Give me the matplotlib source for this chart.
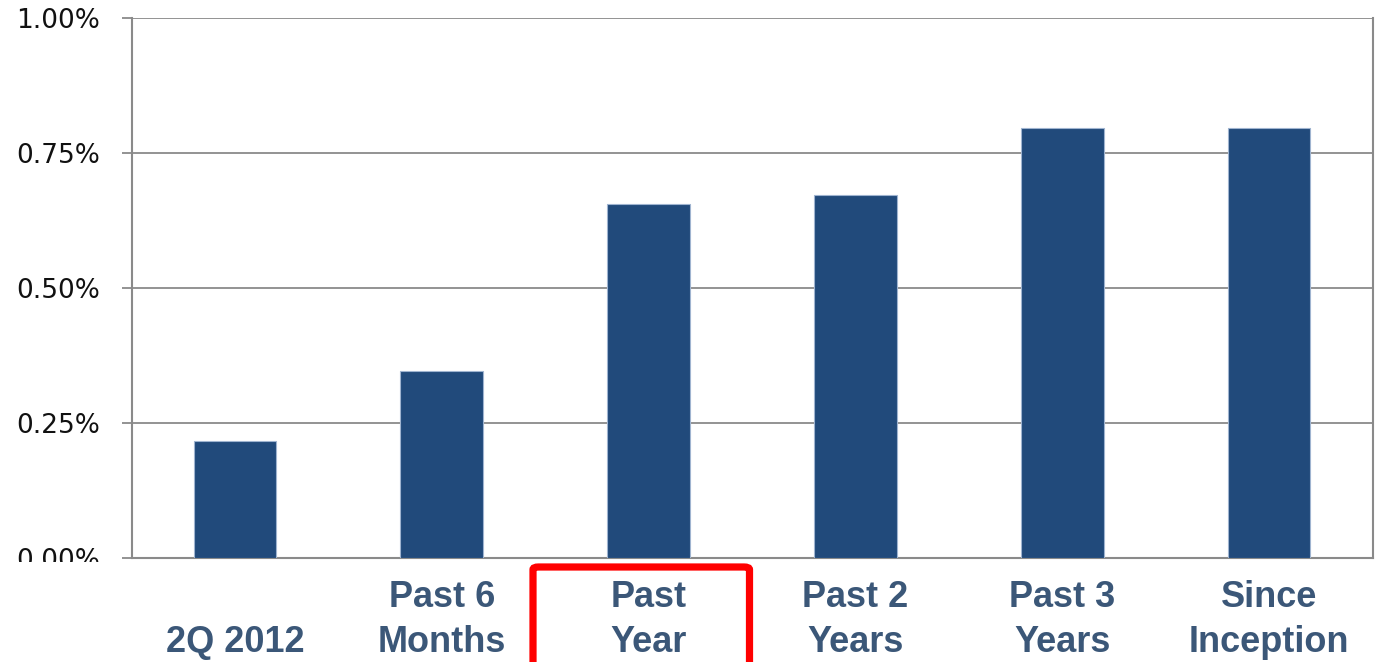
import matplotlib
matplotlib.use("Agg")
import matplotlib.pyplot as plt
from matplotlib.patches import FancyBboxPatch
from matplotlib.transforms import Bbox, TransformedBbox
from matplotlib.ticker import FuncFormatter

# Tracking difference by period (percent)
categories = ["\n2Q 2012", "Past 6\nMonths", "Past\nYear", "Past 2\nYears", "Past 3\nYears", "Since\nInception"]
values = [0.216, 0.347, 0.655, 0.673, 0.796, 0.796]
y_ticks = [0.0, 0.25, 0.50, 0.75, 1.00]
highlight_index = 2

W, H = 1376, 662
fig = plt.figure(figsize=(W / 100, H / 100), dpi=100)
ax = fig.add_axes([131.5 / W, 1 - 558 / H, (1372.5 - 131.5) / W, (558 - 18) / H])

grid_color = "#8a8a8a"
bar_color = "#214a7b"
label_color = "#3b5778"

ax.bar(range(len(values)), values, width=0.4, color=bar_color,
       edgecolor="#9fb4d0", linewidth=0.8, zorder=3)

ax.set_xlim(-0.5, len(values) - 0.5)
ax.set_ylim(0, 1.0)
ax.set_yticks(y_ticks)
ax.yaxis.set_major_formatter(FuncFormatter(lambda v, _: f"{v:.2f}%"))
ax.yaxis.grid(True, color=grid_color, linewidth=1.3, zorder=0)
ax.set_axisbelow(True)

for side in ("left", "right", "bottom"):
    ax.spines[side].set_color(grid_color)
    ax.spines[side].set_linewidth(1.5)
ax.spines["top"].set_visible(False)

ax.tick_params(axis="y", length=7.5, width=1.3, color=grid_color, pad=15,
               labelsize=19, labelcolor="#111111")
ax.tick_params(axis="x", length=0, pad=16)

ax.set_xticks(range(len(values)))
ax.set_xticklabels(categories, fontfamily="Liberation Sans", fontweight="bold",
                   fontsize=26, color=label_color, linespacing=1.35)

# the lowest y label is cut just below the axis line
clip = TransformedBbox(Bbox([[0, (H - 562) / H], [1, 1]]), fig.transFigure)
for lab in ax.get_yticklabels():
    lab.set_clip_box(clip)
    lab.set_clip_on(True)

# red frame around the highlighted period
x0, x1 = 533 / W, 749.5 / W
y_top = 1 - 567 / H
frame = FancyBboxPatch((x0, -0.05), x1 - x0, y_top + 0.05,
                       boxstyle="round,pad=0,rounding_size=0.004",
                       transform=fig.transFigure, fill=False,
                       edgecolor="#ff0000", linewidth=5.2, clip_on=False)
fig.patches.append(frame)

fig.savefig("out.png", dpi=100, facecolor="white")
